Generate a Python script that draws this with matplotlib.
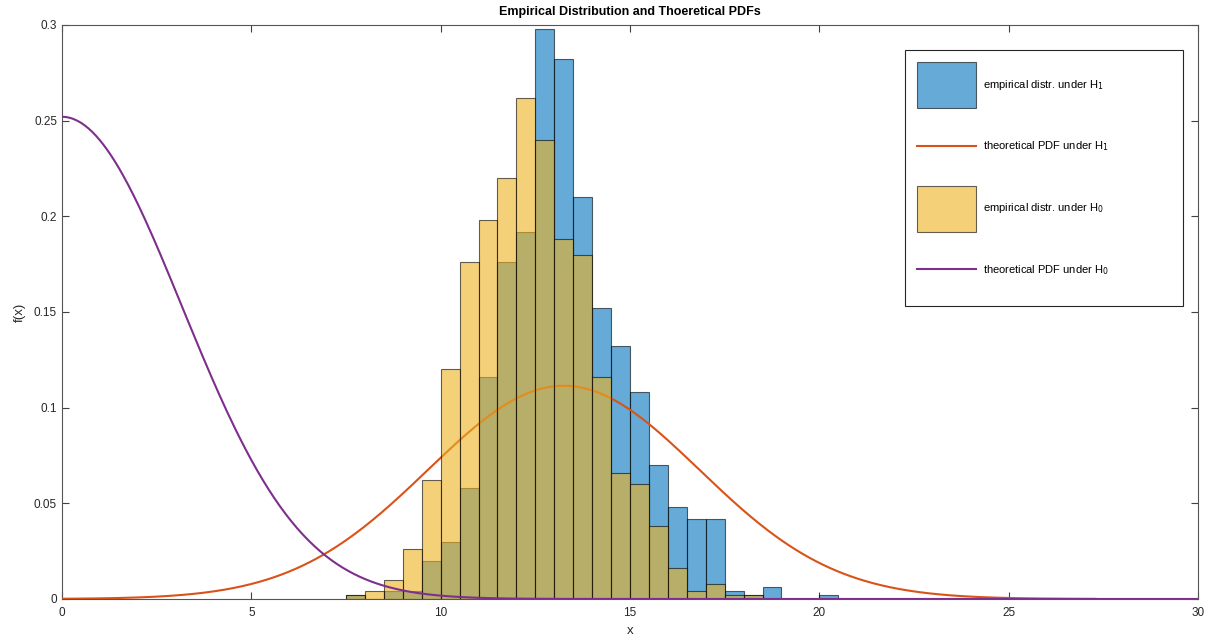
import numpy as np
import matplotlib
matplotlib.use("Agg")
import matplotlib.pyplot as plt
from matplotlib.legend_handler import HandlerLine2D

plt.rcParams['font.family'] = ['Liberation Sans', 'DejaVu Sans']

# histogram bins (width 0.5), normalised as pdf
edges_h1 = [7.5, 8.0, 8.5, 9.0, 9.5, 10.0, 10.5, 11.0, 11.5, 12.0, 12.5, 13.0, 13.5,
            14.0, 14.5, 15.0, 15.5, 16.0, 16.5, 17.0, 17.5, 18.0, 18.5, 19.0, 19.5, 20.0]
pdf_h1 = [0.002, 0.000, 0.004, 0.004, 0.020, 0.030, 0.058, 0.116, 0.176, 0.192, 0.298, 0.282, 0.210,
          0.152, 0.132, 0.108, 0.070, 0.048, 0.042, 0.042, 0.004, 0.002, 0.006, 0.000, 0.000, 0.002]

edges_h0 = [7.5, 8.0, 8.5, 9.0, 9.5, 10.0, 10.5, 11.0, 11.5, 12.0, 12.5,
            13.0, 13.5, 14.0, 14.5, 15.0, 15.5, 16.0, 16.5, 17.0, 17.5, 18.0]
pdf_h0 = [0.002, 0.004, 0.010, 0.026, 0.062, 0.120, 0.176, 0.198, 0.220, 0.262, 0.240,
          0.188, 0.180, 0.116, 0.066, 0.060, 0.038, 0.016, 0.004, 0.008, 0.002, 0.002]
bin_w = 0.5

# theoretical curves
mu1, sigma1 = 13.25, 3.58
peak0, sigma0 = 0.252, 3.17
x1 = np.linspace(0, 27.3, 600)
x0 = np.linspace(0, 30, 600)
f1 = np.exp(-(x1 - mu1) ** 2 / (2 * sigma1 ** 2)) / (sigma1 * np.sqrt(2 * np.pi))
f0 = peak0 * np.exp(-x0 ** 2 / (2 * sigma0 ** 2))


class CenteredLine(HandlerLine2D):
    # put the line handle level with the middle of its label
    def create_artists(self, legend, orig_handle, xdescent, ydescent,
                       width, height, fontsize, trans):
        return super().create_artists(legend, orig_handle, xdescent, ydescent + 13,
                                      width, height, fontsize, trans)


fig = plt.figure(figsize=(12.13, 6.4), dpi=100)
ax = fig.add_axes([0.0511, 0.0641, 0.9365, 0.8969])

b1 = ax.bar(edges_h1, pdf_h1, width=bin_w, align='edge', color='#0072BD', alpha=0.6,
            edgecolor='black', linewidth=0.8, label='empirical distr. under H$_1$', zorder=2)
l1, = ax.plot(x1, f1, color='#D95319', lw=1.5, label='theoretical PDF under H$_1$', zorder=3)
b0 = ax.bar(edges_h0, pdf_h0, width=bin_w, align='edge', color='#EDB120', alpha=0.6,
            edgecolor='black', linewidth=0.8, label='empirical distr. under H$_0$', zorder=4)
l0, = ax.plot(x0, f0, color='#7E2F8E', lw=1.5, label='theoretical PDF under H$_0$', zorder=5)

ax.set_xlim(0, 30)
ax.set_ylim(0, 0.3)
ax.set_xticks([0, 5, 10, 15, 20, 25, 30])
ax.set_yticks([0, 0.05, 0.1, 0.15, 0.2, 0.25, 0.3])
ax.set_yticklabels(['0', '0.05', '0.1', '0.15', '0.2', '0.25', '0.3'])
ax.tick_params(direction='in', top=True, right=True, length=5, width=0.8,
               colors='#404040', labelsize=8.5, labelcolor='#262626')
ax.tick_params(axis='x', pad=6)
for s in ax.spines.values():
    s.set_color('#555555')
    s.set_linewidth(0.8)

ax.set_title('Empirical Distribution and Thoeretical PDFs', fontsize=9, fontweight='bold', pad=7)
ax.set_xlabel('x', fontsize=9.5, color='#262626', labelpad=4)
ax.set_ylabel('f(x)', fontsize=9.5, color='#262626', labelpad=6)

leg = ax.legend(handles=[b1, l1, b0, l0], loc='upper left',
                bbox_to_anchor=(0.742, 0.509, 0.245, 0.447), mode='expand', borderaxespad=0,
                fontsize=8, handlelength=5.3, handleheight=6.0, labelspacing=1.4,
                borderpad=1.1, handletextpad=0.6, fancybox=False, framealpha=1,
                handler_map={l1: CenteredLine(), l0: CenteredLine()})
leg.get_frame().set_edgecolor('#262626')
leg.get_frame().set_linewidth(0.8)

fig.savefig('out.png', dpi=100)
